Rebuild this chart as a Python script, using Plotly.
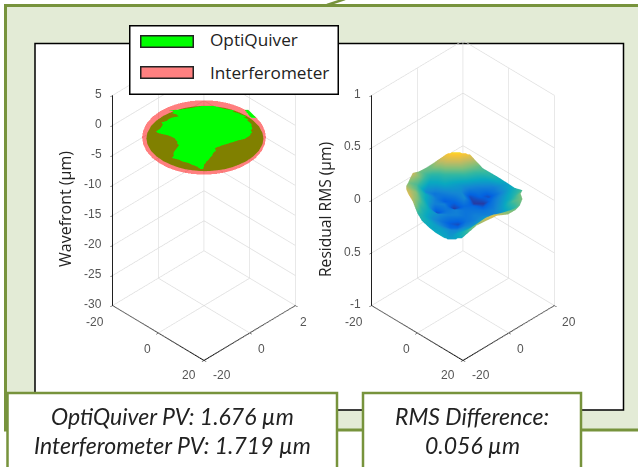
import plotly.graph_objects as go

# ---- data ----
ticks_xy = [-20, 0, 20]
ticks_z1 = [5, 0, -5, -10, -15, -20, -25, -30]
ticks_z2 = [1, 0.5, 0, -0.5, -1]
ticktext_z2 = ["1", "0.5", "0", "0.5", "-1"]

# left plot: spans along (x-y); half widths along (x+y)
wave_plane_z = -2.0
red_v = [-27.1, -27, -26.5, -25.5, -24, -22, -19, -15, -10, -5, 0, 5, 10, 15, 19, 22, 24, 25.5, 26.5, 27, 27.1]
red_half = [0, 2.3, 5.7, 9.2, 12.6, 15.8, 19.3, 22.6, 25.2, 26.6, 27.1, 26.6, 25.2, 22.6, 19.3, 15.8, 12.6, 9.2, 5.7, 2.3, 0]
green_v = [-24.8, -24.7, -24.2, -23.3, -22, -20, -17.5, -14, -10, -5, -1, 3, 8, 12, 15.5, 18, 20, 21.4, 22.2, 22.7, 22.8]
green_left = [0.4, -1.8, -5, -8.3, -11.4, -14.6, -17.8, -20.8, -23.2, -24.8, -25.2, -24.8, -23.2, -20.8, -17.8, -14.6, -11.4, -8.3, -5, -1.8, 0.4]
green_right = [0.4, 2.6, 5.8, 9.1, 12.2, 15.4, 18.6, 21.6, 24, 25.6, 26, 25.6, 24, 21.6, 18.6, 15.4, 12.2, 9.1, 5.8, 2.6, 0.4]
patch_v = [-21.3, -20.6, -19.6, -18.9, -17.9, -17.2, -16, -15, -13.6, -12.8, -11.6, -10.5, -9.2, -8, -6.3, -5, -3.6, -2.7, -1.8, -1,
           .3, 1.5, 2.8, 3.9, 5, 5.8, 7.5, 9.5, 11.5, 13, 15, 16.7, 18, 19.1, 20.3, 21.6, 23, 24.7]
patch_left = [-.3, -3, -6.1, -9, -15.5, -13, -14, -12, -11, -14, -15.5, -16, -18.6, -18, -18.5, -19, -20, -21, -20.5, -19,
              -15.5, -13.8, -12.5, -12.3, -11.5, -11.9, -11, -11.9, -12.8, -13.3, -13.2, -14, -11, -9.7, -7, -5.3, -3, -1.7]
patch_right = [4.1, 6, 7.7, 9.5, 13.5, 12.5, 14.9, 16, 18.5, 17.5, 19.3, 19, 20, 20.8, 20.7, 21.2, 20.6, 20.7, 21, 20.4,
               20.2, 19, 17.8, 14.9, 13, 11.3, 8, 4.8, 5.2, 4, 3.6, 2.6, 2, 1.2, .8, .1, 0, -.4]
bits_v = [-18.4, -15.7, -12.5]
bits_left = [17.8, 19, 20.7]
bits_right = [19.3, 21, 22.9]

# right plot: rows along (x-y), left and right limit along (x+y), height table
res_v = [-26, -22, -18, -14, -10, -6, -2, 2, 6, 10, 14, 18, 22, 26]
res_left = [-7.4, -15.6, -19.5, -22, -24, -24.8, -24.8, -24, -22, -20, -18, -15, -12, -8]
res_right = [3, 8.7, 15.2, 20.4, 22.6, 26, 25.2, 26, 24.8, 23, 19.6, 14.8, 6, -0.5]
res_z = [
    [.10, .11, .11, .12, .12, .12, .12, .12, .11, .11, .11, .10, .10],
    [.03, .04, .06, .06, .07, .07, .07, .07, .06, .05, .04, .03, .02],
    [.04, .02, .00, .00, .01, .01, .01, .01, .00, -.01, -.01, .00, -.01],
    [.08, .03, -.03, -.03, -.02, -.03, -.04, -.05, -.06, -.06, -.06, -.04, -.03],
    [.04, .02, -.05, -.07, -.06, -.05, -.05, -.10, -.08, -.10, -.07, -.04, -.01],
    [.06, .03, -.02, -.06, -.09, -.08, -.05, -.11, -.11, -.07, -.04, -.01, .02],
    [.08, .05, -.02, -.06, -.06, -.11, -.08, -.08, -.09, -.07, -.04, -.01, .04],
    [.09, .04, -.02, -.10, -.07, -.06, -.07, -.07, -.07, -.06, -.03, .02, .04],
    [.07, .00, -.03, -.05, -.06, -.06, -.07, -.06, -.06, -.06, -.04, -.01, .03],
    [.01, -.02, -.05, -.07, -.09, -.10, -.07, -.06, -.04, -.02, .00, .03, .04],
    [-.01, -.02, -.04, -.06, -.08, -.08, -.06, -.05, -.03, .02, .05, .06, .05],
    [-.02, -.03, -.03, -.04, -.05, -.05, -.04, -.03, -.01, .03, .07, .09, .09],
    [-.02, -.02, -.03, -.03, -.04, -.04, -.03, -.02, -.01, .00, .02, .04, .05],
    [-.02, -.02, -.03, -.03, -.03, -.03, -.03, -.03, -.03, -.02, -.02, -.02, -.02],
]
parula = [[0, "#352a87"], [.125, "#0363e1"], [.25, "#1485d4"], [.375, "#09a9c0"],
          [.5, "#33b8a1"], [.625, "#7fbf7b"], [.75, "#c4bb61"], [.875, "#f9c534"], [1, "#f9fb0e"]]

GREEN = "#00ff00"
RED = "#ff0000"
TICKCOL = "#555555"
PANEL = "#e3ebd6"
BORDER = "#77933c"
FLAT = dict(ambient=1, diffuse=0, specular=0, fresnel=0, roughness=1)


def to_xy(v, u):
    return (u + v) / 2, (u - v) / 2


def ribbon(vs, lefts, rights, z, color, opacity=1.0):
    """Strip of quads between a left and a right boundary; exact outline, no resampling."""
    xs, ys, ii, jj, kk = [], [], [], [], []
    for v, l, r in zip(vs, lefts, rights):
        for u in (l, r):
            p = to_xy(v, u)
            xs.append(p[0])
            ys.append(p[1])
    for q in range(len(vs) - 1):
        a, b, c, d = 2 * q, 2 * q + 1, 2 * q + 2, 2 * q + 3
        ii += [a, b]
        jj += [b, d]
        kk += [c, c]
    return go.Mesh3d(x=xs, y=ys, z=[z] * len(xs), i=ii, j=jj, k=kk, color=color, opacity=opacity,
                     flatshading=True, lighting=FLAT, hoverinfo="skip", scene="scene")


fig = go.Figure()
fig.add_trace(ribbon(green_v, green_left, green_right, wave_plane_z - 0.4, GREEN))
fig.add_trace(ribbon(patch_v, patch_left, patch_right, wave_plane_z + 0.4, GREEN))
fig.add_trace(ribbon(bits_v, bits_left, bits_right, wave_plane_z + 0.4, GREEN))
fig.add_trace(ribbon(red_v, [-h for h in red_half], red_half, wave_plane_z, RED, 0.5))

rx, ry = [], []
n = len(res_z[0]) - 1
for v, l, r in zip(res_v, res_left, res_right):
    row = [to_xy(v, l + (r - l) * j / n) for j in range(n + 1)]
    rx.append([p[0] for p in row])
    ry.append([p[1] for p in row])
fig.add_trace(go.Surface(x=rx, y=ry, z=res_z, cmin=-.12, cmax=.14, colorscale=parula, showscale=False,
                         lighting=FLAT, hoverinfo="skip", scene="scene2"))


def axis(vals, text, rng):
    return dict(range=rng, tickvals=vals, ticktext=text, title=dict(text=""), tickangle=0, showticklabels=False,
                showgrid=True, gridcolor="#dcdcdc", gridwidth=1.5, zeroline=False,
                showline=True, linecolor="#000000", linewidth=2, ticks="outside", ticklen=3,
                tickcolor="#222222", tickfont=dict(family="Liberation Sans", size=12, color=TICKCOL),
                showbackground=False, showspikes=False)


def tick_notes(zvals, ztext, zbottom, ylabels):
    font = dict(family="Liberation Sans", size=12, color=TICKCOL)
    notes = []
    for t, s in zip(zvals, ztext):
        notes.append(dict(x=-20, y=-20, z=t, text=s, showarrow=False, xanchor="right", yanchor="middle",
                          xshift=-9, yshift=1.5, font=font))
    for t, s, dx, dy in zip(ticks_xy, ["-20", "0", "20"], [-18, -11, -15], [-16, -16, -14.5]):
        notes.append(dict(x=t, y=-20, z=zbottom, text=s, showarrow=False, xanchor="center", yanchor="middle",
                          xshift=dx, yshift=dy, font=font))
    last_dx = 8 if ylabels[-1] == "2" else 15
    for t, s, dx, dy in zip(ticks_xy, ylabels, [18, 11.5, last_dx], [-14.5, -16, -16]):
        notes.append(dict(x=20, y=t, z=zbottom, text=s, showarrow=False, xanchor="center", yanchor="middle",
                          xshift=dx, yshift=dy, font=font))
    return notes


def scene(domx, zvals, ztext, zrng, ylabels):
    return dict(domain=dict(x=domx, y=[0.1413, 1.0]),
                xaxis=axis(ticks_xy, ["-20", "0", "20"], [-20, 20]),
                yaxis=axis(ticks_xy, ylabels, [-20, 20]),
                zaxis=axis(zvals, ztext, zrng),
                aspectmode="manual", aspectratio=dict(x=.645, y=.645, z=1.31),
                camera=dict(eye=dict(x=1, y=-1, z=1.06), up=dict(x=0, y=0, z=1),
                            center=dict(x=0, y=0, z=0), projection=dict(type="orthographic")),
                annotations=tick_notes(zvals, ztext, zrng[0], ylabels),
                bgcolor="rgba(0,0,0,0)")


def W(px):
    return px / 638


def H(py):
    return 1 - py / 467


shapes = [
    dict(type="rect", x0=W(5.5), x1=W(660), y0=H(5.5), y1=H(430), fillcolor=PANEL,
         line=dict(color=BORDER, width=3), layer="below"),
    dict(type="line", x0=W(327), x1=W(345), y0=H(5), y1=H(-1), line=dict(color=BORDER, width=2.5), layer="below"),
    dict(type="rect", x0=W(35), x1=W(623.5), y0=H(43.5), y1=H(410), fillcolor="white",
         line=dict(color="black", width=1.5), layer="below"),
    dict(type="rect", x0=W(7.5), x1=W(337), y0=H(393), y1=H(470), fillcolor="white",
         line=dict(color=BORDER, width=2.5), layer="below"),
    dict(type="rect", x0=W(363), x1=W(581), y0=H(393), y1=H(470), fillcolor="white",
         line=dict(color=BORDER, width=2.5), layer="below"),
]


def label(px, py, text, size=13, color="#222222", family="Open Sans", angle=0, style="normal", xanchor="center"):
    return dict(x=W(px), y=H(py), xref="paper", yref="paper", text=text, showarrow=False,
                font=dict(family=family, size=size, color=color, style=style), textangle=angle,
                xanchor=xanchor, yanchor="middle")


def box(x0, y0, x1, y1, fill, line, lw):
    return dict(x=W((x0 + x1) / 2), y=H((y0 + y1) / 2), xref="paper", yref="paper", text=" ", showarrow=False,
                width=x1 - x0, height=y1 - y0, bgcolor=fill, bordercolor=line, borderwidth=lw, borderpad=0,
                xanchor="center", yanchor="middle")


annotations = [
    box(130, 27, 337, 94, "white", "black", 1.5),
    box(141, 36, 192, 46, GREEN, "#222222", 1.5),
    box(141, 68, 192, 78, "#ff8080", "#222222", 1.5),
    label(208, 40, "OptiQuiver", 17.2, xanchor="left"),
    label(208, 73, "Interferometer", 17.2, xanchor="left"),
    label(65, 209, "Wavefront (µm)", 16, angle=-90),
    label(325, 210, "Residual RMS (µm)", 15.6, angle=-90),
    label(172, 416, "OptiQuiver PV: 1.676 µm", 23, family="Lato", style="italic"),
    label(172, 445, "Interferometer PV: 1.719 µm", 23, family="Lato", style="italic"),
    label(472, 416, "RMS Difference:", 23, family="Lato", style="italic"),
    label(472, 445, "0.056 µm", 23, family="Lato", style="italic"),
]

fig.update_layout(
    width=638, height=467, margin=dict(l=0, r=0, t=0, b=0), paper_bgcolor="white", showlegend=False,
    scene=scene([0, 408 / 638], ticks_z1, [str(t) for t in ticks_z1], [-30, 5], ["-20", "0", "2"]),
    scene2=scene([288 / 638, 1], ticks_z2, ticktext_z2, [-1, 1], ["-20", "0", "20"]),
    shapes=shapes, annotations=annotations,
)
fig.write_html("out.html", config=dict(displayModeBar=False),
               post_script="document.body.style.margin='0';document.body.style.overflow='hidden';")
